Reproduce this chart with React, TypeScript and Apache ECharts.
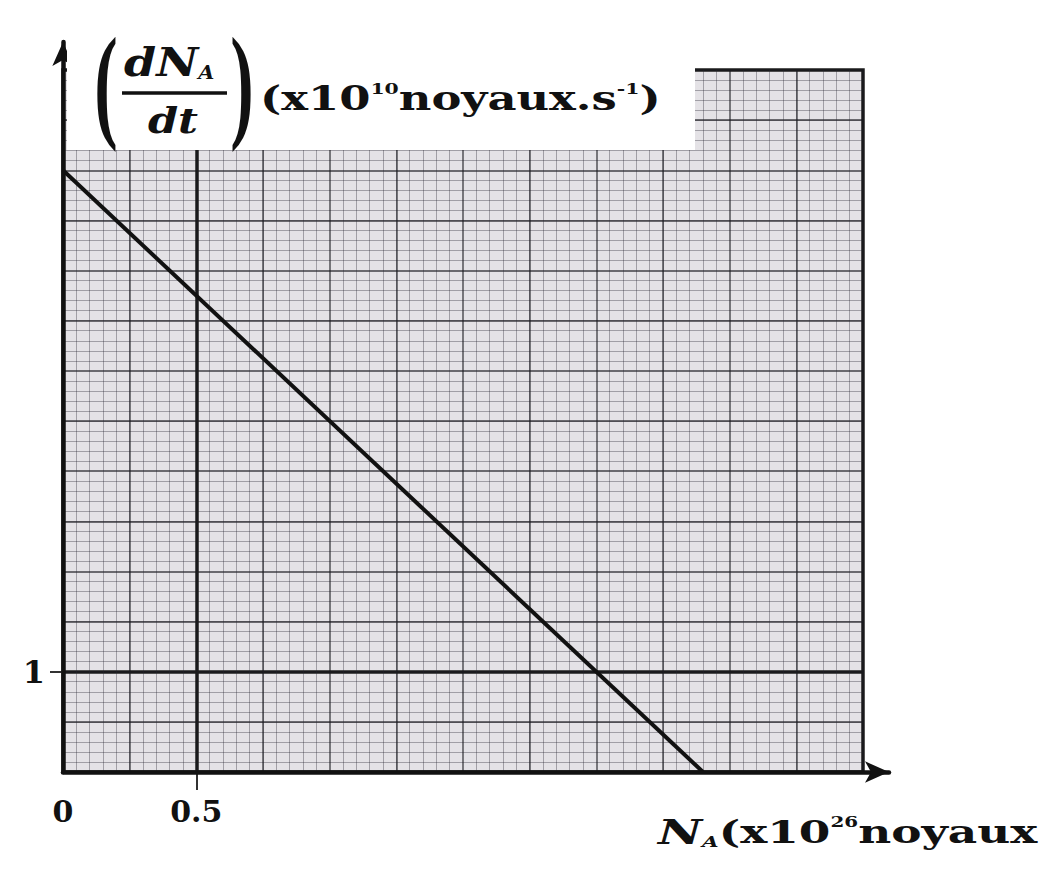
import React, { useEffect, useRef } from 'react';
import * as echarts from 'echarts';

// valeurs
const nucleiCount = [0, 2.4];
const decayRate = [6, 0];
const xTickLabels = [0, 0.5];
const yTickLabels = [1];
const xRange = [0, 3];
const yRange = [0, 7];

const SERIF = 'DejaVu Serif';
const HEAVY = '#1c1c1c';
const MEDIUM = 'rgba(25,25,30,0.6)';
const MINOR = 'rgba(40,40,50,0.36)';

const App: React.FC = () => {
    const chartRef = useRef<HTMLDivElement>(null);

    useEffect(() => {
        if (!chartRef.current) return;
        const chart = echarts.init(chartRef.current, undefined, { renderer: 'svg' });

        const hidden = { show: false };
        const paperX = {
            gridIndex: 0,
            type: 'value' as const,
            min: xRange[0],
            max: xRange[1],
        };
        const paperY = {
            gridIndex: 0,
            type: 'value' as const,
            min: yRange[0],
            max: yRange[1],
        };

        chart.setOption({
            animation: false,
            backgroundColor: '#ffffff',
            grid: [
                {
                    left: 63, top: 70, width: 800, height: 702,
                    show: true,
                    backgroundColor: '#e4e2e6',
                    borderColor: HEAVY,
                    borderWidth: 3.5,
                },
                { left: 63, top: 42, width: 826, height: 730 },
            ],
            xAxis: [
                {
                    ...paperX,
                    interval: 0.5,
                    axisLine: hidden,
                    axisTick: {
                        show: true,
                        customValues: [0.5],
                        length: 18,
                        lineStyle: { color: '#333', width: 2 },
                    },
                    axisLabel: {
                        customValues: xTickLabels,
                        formatter: (v: number) => String(v),
                        margin: 24,
                        color: '#111',
                        fontFamily: SERIF,
                        fontWeight: 'bold',
                        fontSize: 30,
                    },
                    splitLine: { show: true, lineStyle: { color: HEAVY, width: 3.5 } },
                    minorTick: { show: false, splitNumber: 10 },
                    minorSplitLine: { show: true, lineStyle: { color: MINOR, width: 1 } },
                },
                {
                    ...paperX,
                    position: 'top',
                    interval: 0.25,
                    axisLine: hidden,
                    axisTick: hidden,
                    axisLabel: hidden,
                    splitLine: { show: true, lineStyle: { color: MEDIUM, width: 1.8 } },
                },
                {
                    gridIndex: 1,
                    type: 'value',
                    min: 0,
                    max: 1,
                    axisLine: {
                        show: true,
                        symbol: ['none', 'arrow'],
                        symbolSize: [16, 24],
                        lineStyle: { color: '#111', width: 4.5 },
                    },
                    axisTick: hidden,
                    axisLabel: hidden,
                    splitLine: hidden,
                    z: 20,
                },
            ],
            yAxis: [
                {
                    ...paperY,
                    interval: 1,
                    axisLine: hidden,
                    axisTick: {
                        show: true,
                        customValues: [1],
                        length: 13,
                        lineStyle: { color: '#333', width: 2 },
                    },
                    axisLabel: {
                        customValues: yTickLabels,
                        margin: 18,
                        color: '#111',
                        fontFamily: SERIF,
                        fontWeight: 'bold',
                        fontSize: 32,
                    },
                    splitLine: { show: true, lineStyle: { color: HEAVY, width: 3.5 } },
                    minorTick: { show: false, splitNumber: 10 },
                    minorSplitLine: { show: true, lineStyle: { color: MINOR, width: 1 } },
                },
                {
                    ...paperY,
                    position: 'right',
                    interval: 0.5,
                    axisLine: hidden,
                    axisTick: hidden,
                    axisLabel: hidden,
                    splitLine: { show: true, lineStyle: { color: MEDIUM, width: 1.8 } },
                },
                {
                    gridIndex: 1,
                    type: 'value',
                    min: 0,
                    max: 1,
                    axisLine: {
                        show: true,
                        symbol: ['none', 'arrow'],
                        symbolSize: [16, 24],
                        lineStyle: { color: '#111', width: 4.5 },
                    },
                    axisTick: hidden,
                    axisLabel: hidden,
                    splitLine: hidden,
                    z: 20,
                },
            ],
            series: [
                {
                    type: 'line',
                    xAxisIndex: 0,
                    yAxisIndex: 0,
                    data: nucleiCount.map((n, i) => [n, decayRate[i]]),
                    symbol: 'none',
                    lineStyle: { color: '#111', width: 4 },
                    z: 5,
                },
            ],
            graphic: [
                // fond blanc sous le titre de l'axe vertical
                {
                    type: 'rect',
                    z: 50,
                    shape: { x: 67, y: 30, width: 628, height: 120 },
                    style: { fill: '#ffffff' },
                },
                {
                    type: 'text',
                    z: 51,
                    x: 106, y: 82, scaleX: 0.55,
                    style: {
                        text: '(',
                        font: 'bold 128px Liberation Serif',
                        fill: '#111',
                        align: 'center',
                        verticalAlign: 'middle',
                    },
                },
                {
                    type: 'text',
                    z: 51,
                    x: 242, y: 82, scaleX: 0.55,
                    style: {
                        text: ')',
                        font: 'bold 128px Liberation Serif',
                        fill: '#111',
                        align: 'center',
                        verticalAlign: 'middle',
                    },
                },
                {
                    type: 'text',
                    z: 51,
                    x: 124, y: 82, scaleX: 1.15,
                    style: {
                        text: '{n|dN}{s|A}',
                        fill: '#111',
                        align: 'left',
                        verticalAlign: 'bottom',
                        rich: {
                            n: { fontFamily: SERIF, fontStyle: 'italic', fontWeight: 'bold', fontSize: 40 },
                            s: { fontFamily: SERIF, fontStyle: 'italic', fontWeight: 'bold', fontSize: 18, verticalAlign: 'bottom' },
                        },
                    },
                },
                {
                    type: 'line',
                    z: 51,
                    shape: { x1: 122, y1: 93, x2: 227, y2: 93 },
                    style: { stroke: '#111', lineWidth: 3.5 },
                },
                {
                    type: 'text',
                    z: 51,
                    x: 173, y: 102, scaleX: 1.2,
                    style: {
                        text: 'dt',
                        font: 'italic bold 36px DejaVu Serif',
                        fill: '#111',
                        align: 'center',
                        verticalAlign: 'top',
                    },
                },
                {
                    type: 'text',
                    z: 51,
                    x: 260, y: 98, scaleX: 1.36,
                    style: {
                        text: '{t|(x10}{p|10}{t|noyaux.s}{p|-1}{t|)}',
                        fill: '#111',
                        align: 'left',
                        verticalAlign: 'middle',
                        rich: {
                            t: { fontFamily: SERIF, fontWeight: 'bold', fontSize: 33 },
                            p: { fontFamily: SERIF, fontWeight: 'bold', fontSize: 15, verticalAlign: 'top' },
                        },
                    },
                },
                // titre de l'axe horizontal
                {
                    type: 'text',
                    z: 51,
                    x: 658, y: 832, scaleX: 1.42,
                    style: {
                        text: '{n|N}{s|A}{t|(x10}{p|26}{t|noyaux}',
                        fill: '#111',
                        align: 'left',
                        verticalAlign: 'middle',
                        rich: {
                            n: { fontFamily: SERIF, fontStyle: 'italic', fontWeight: 'bold', fontSize: 34 },
                            s: { fontFamily: SERIF, fontStyle: 'italic', fontWeight: 'bold', fontSize: 15, verticalAlign: 'bottom' },
                            t: { fontFamily: SERIF, fontWeight: 'bold', fontSize: 32 },
                            p: { fontFamily: SERIF, fontWeight: 'bold', fontSize: 14, verticalAlign: 'top' },
                        },
                    },
                },
            ],
        });

        return () => {
            chart.dispose();
        };
    }, []);

    return (
        <div
            ref={chartRef}
            style={{ position: 'absolute', left: 0, top: 0, width: 1053, height: 886 }}
        />
    );
};

export default App;
